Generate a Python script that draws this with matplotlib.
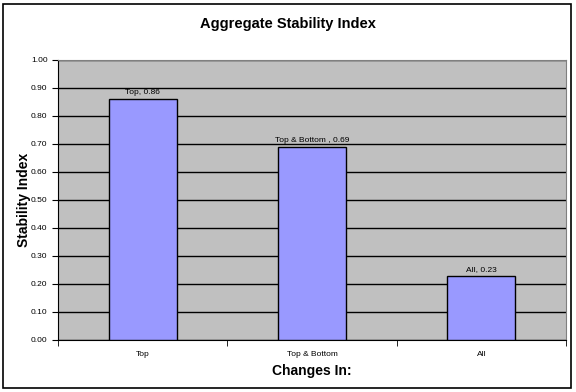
import matplotlib
matplotlib.use('Agg')
import matplotlib.pyplot as plt
import numpy as np

plt.rcParams['font.family'] = ['Liberation Sans', 'DejaVu Sans']

categories = ['Top', 'Top & Bottom', 'All']
values = [0.86, 0.69, 0.23]
point_labels = ['Top, 0.86', 'Top & Bottom , 0.69', 'All, 0.23']
yticks = [0.0, 0.1, 0.2, 0.3, 0.4, 0.5, 0.6, 0.7, 0.8, 0.9, 1.0]

fig = plt.figure(figsize=(5.76, 3.92), dpi=100)
ax = fig.add_axes([0.1007, 0.1327, 0.8819, 0.7143])

x = np.arange(len(categories))
ax.set_facecolor('#C0C0C0')
ax.bar(x, values, width=0.4, color='#9999FF', edgecolor='black', linewidth=1, zorder=3)

for xi, v, lab in zip(x, values, point_labels):
    ax.text(xi, v + 0.01, lab, ha='center', va='bottom', fontsize=6)

ax.set_xlim(-0.5, len(categories) - 0.5)
ax.set_ylim(0, 1.0)
ax.set_yticks(yticks)
ax.set_yticklabels(['%.2f' % t for t in yticks], fontsize=6)
ax.yaxis.grid(True, color='black', linewidth=1, zorder=1)
ax.set_axisbelow(True)

# category labels centered, ticks at the boundaries
ax.set_xticks(x)
ax.set_xticklabels(categories, fontsize=6)
ax.tick_params(axis='x', length=0, pad=8)
ax.set_xticks(np.arange(len(categories) + 1) - 0.5, minor=True)
ax.tick_params(axis='x', which='minor', length=4, color='black')
ax.tick_params(axis='y', length=4, color='black')

ax.spines['left'].set_color('black')
ax.spines['bottom'].set_color('black')
ax.spines['top'].set_color('#808080')
ax.spines['right'].set_color('#808080')

ax.set_ylabel('Stability Index', fontsize=10, fontweight='bold', labelpad=0)
ax.set_xlabel('Changes In:', fontsize=10, fontweight='bold', labelpad=4)
fig.text(0.5, 0.94, 'Aggregate Stability Index', ha='center', va='center',
         fontsize=10.5, fontweight='bold')

# frame around the whole chart
border = plt.Rectangle((0.006, 0.01), 0.985, 0.98, transform=fig.transFigure,
                       fill=False, edgecolor='black', linewidth=1.2)
fig.patches.append(border)

plt.savefig('out.png', dpi=100)
